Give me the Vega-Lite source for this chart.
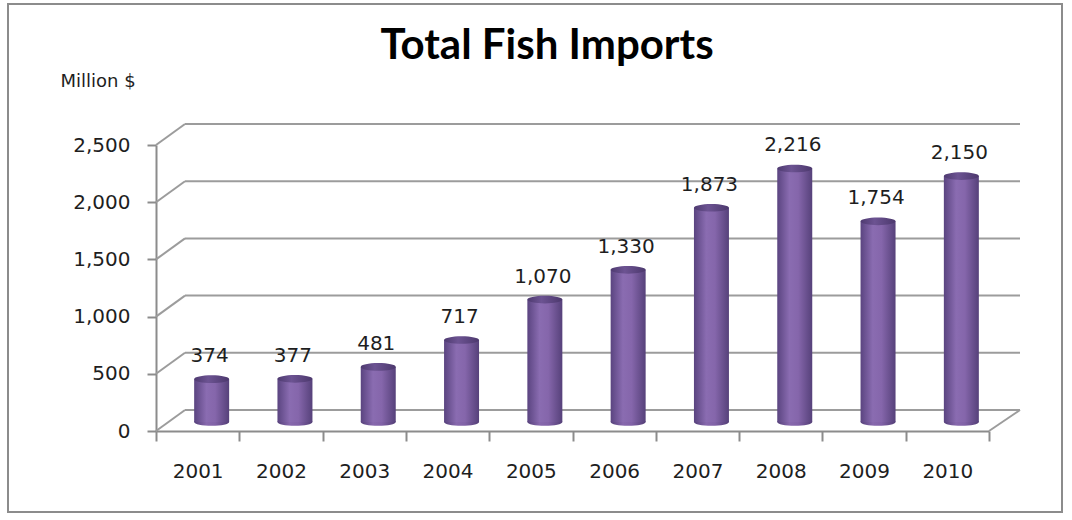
{
  "$schema": "https://vega.github.io/schema/vega-lite/v6.json",
  "width": 1054,
  "height": 508,
  "autosize": {"type": "none"},
  "padding": {"left": 8, "top": 4, "right": 10, "bottom": 8},
  "background": "white",
  "config": {
    "view": {"stroke": "#8c8c8c", "strokeWidth": 2},
    "font": "DejaVu Sans",
    "axis": {"grid": false, "domainColor": "#8c8c8c", "domainWidth": 2, "tickColor": "#8c8c8c", "tickWidth": 2, "labelColor": "#1e1e1e", "labelFont": "DejaVu Sans"}
  },
  "title": {
    "text": "Total Fish Imports",
    "font": "Lato",
    "fontSize": 42,
    "fontWeight": "bold",
    "color": "#000000",
    "anchor": "middle",
    "frame": "group",
    "baseline": "alphabetic",
    "offset": 0,
    "dx": 12,
    "dy": 97
  },
  "datasets": {
    "imports": [
      {"year": "2001", "value": 374},
      {"year": "2002", "value": 377},
      {"year": "2003", "value": 481},
      {"year": "2004", "value": 717},
      {"year": "2005", "value": 1070},
      {"year": "2006", "value": 1330},
      {"year": "2007", "value": 1873},
      {"year": "2008", "value": 2216},
      {"year": "2009", "value": 1754},
      {"year": "2010", "value": 2150}
    ],
    "grid": [
      {"value": 0}, {"value": 500}, {"value": 1000}, {"value": 1500}, {"value": 2000}, {"value": 2500}
    ]
  },
  "resolve": {"scale": {"x": "independent"}, "axis": {"x": "independent"}},
  "layer": [
    {
      "data": {"name": "grid"},
      "mark": {"type": "rule", "color": "#9c9c9c", "strokeWidth": 2, "xOffset": 29, "x2Offset": 31, "yOffset": -21, "y2Offset": -21},
      "encoding": {
        "x": {"datum": 0, "type": "quantitative", "scale": {"domain": [0, 1], "range": [148, 981]}, "axis": null},
        "x2": {"datum": 1},
        "y": {
          "field": "value", "type": "quantitative",
          "scale": {"domain": [0, 2500], "range": [427, 141], "nice": false, "zero": true},
          "axis": {
            "orient": "left", "offset": -148, "values": [0, 500, 1000, 1500, 2000, 2500], "format": ",d",
            "tickSize": 9, "labelPadding": 17, "labelFontSize": 20,
            "title": "Million $", "titleAngle": 0, "titleX": -96, "titleY": 77, "titleAlign": "left", "titleBaseline": "middle",
            "titleFontSize": 18, "titleFontWeight": "normal", "titleColor": "#1e1e1e", "titleFont": "DejaVu Sans"
          }
        },
        "y2": {"field": "value"}
      }
    },
    {
      "data": {"name": "grid"},
      "mark": {"type": "rule", "color": "#9c9c9c", "strokeWidth": 2, "x2Offset": 29, "y2Offset": -21},
      "encoding": {
        "x": {"datum": 0, "type": "quantitative", "scale": {"domain": [0, 1], "range": [148, 981]}, "axis": null},
        "x2": {"datum": 0},
        "y": {"field": "value", "type": "quantitative"},
        "y2": {"field": "value"}
      }
    },
    {
      "data": {"name": "grid"},
      "transform": [{"filter": "datum.value == 0"}],
      "mark": {"type": "rule", "color": "#9c9c9c", "strokeWidth": 2, "x2Offset": 31, "y2Offset": -21},
      "encoding": {
        "x": {"datum": 1, "type": "quantitative", "scale": {"domain": [0, 1], "range": [148, 981]}, "axis": null},
        "x2": {"datum": 1},
        "y": {"field": "value", "type": "quantitative"},
        "y2": {"field": "value"}
      }
    },
    {
      "data": {"name": "imports"},
      "encoding": {
        "x": {
          "field": "year", "type": "nominal", "sort": null,
          "scale": {"range": [148, 981], "paddingInner": 0, "paddingOuter": 0},
          "axis": {
            "orient": "bottom", "offset": -81, "tickBand": "extent", "tickSize": 10, "labelPadding": 20,
            "labelFontSize": 20, "labelAngle": 0, "title": null
          }
        }
      },
      "layer": [
        {
          "mark": {
            "type": "point", "filled": true, "size": 1225, "strokeWidth": 0, "opacity": 1, "xOffset": 14, "yOffset": -9,
            "shape": "M -1 0 C -1 -0.1215 -0.5523 -0.22 0 -0.22 C 0.5523 -0.22 1 -0.1215 1 0 C 1 0.1215 0.5523 0.22 0 0.22 C -0.5523 0.22 -1 0.1215 -1 0 Z",
            "fill": {"gradient": "linear", "x1": 0, "y1": 0, "x2": 1, "y2": 0, "stops": [
              {"offset": 0, "color": "#55407a"}, {"offset": 0.35, "color": "#8768ad"}, {"offset": 0.6, "color": "#8162a7"}, {"offset": 1, "color": "#533e76"}
            ]}
          },
          "encoding": {"y": {"datum": 0, "type": "quantitative"}}
        },
        {
          "mark": {
            "type": "bar", "width": {"band": 0.42}, "xOffset": 14, "yOffset": -9, "y2Offset": -9,
            "color": {"gradient": "linear", "x1": 0, "y1": 0, "x2": 1, "y2": 0, "stops": [
              {"offset": 0, "color": "#5a4480"}, {"offset": 0.35, "color": "#8a6cb1"}, {"offset": 0.6, "color": "#8566ab"}, {"offset": 1, "color": "#56417a"}
            ]}
          },
          "encoding": {"y": {"field": "value", "type": "quantitative"}}
        },
        {
          "mark": {
            "type": "point", "filled": true, "size": 1225, "strokeWidth": 0, "opacity": 1, "xOffset": 14, "yOffset": -9,
            "shape": "M -1 0 C -1 -0.1215 -0.5523 -0.22 0 -0.22 C 0.5523 -0.22 1 -0.1215 1 0 C 1 0.1215 0.5523 0.22 0 0.22 C -0.5523 0.22 -1 0.1215 -1 0 Z",
            "fill": {"gradient": "linear", "x1": 0, "y1": 0, "x2": 1, "y2": 0, "stops": [
              {"offset": 0, "color": "#4e3a70"}, {"offset": 0.4, "color": "#6c5392"}, {"offset": 1, "color": "#4c386d"}
            ]}
          },
          "encoding": {"y": {"field": "value", "type": "quantitative"}}
        },
        {
          "mark": {"type": "text", "xOffset": 12, "yOffset": -26, "baseline": "alphabetic", "fontSize": 20, "color": "#1e1e1e", "font": "DejaVu Sans"},
          "encoding": {
            "y": {"field": "value", "type": "quantitative"},
            "text": {"field": "value", "type": "quantitative", "format": ",d"}
          }
        }
      ]
    }
  ]
}
